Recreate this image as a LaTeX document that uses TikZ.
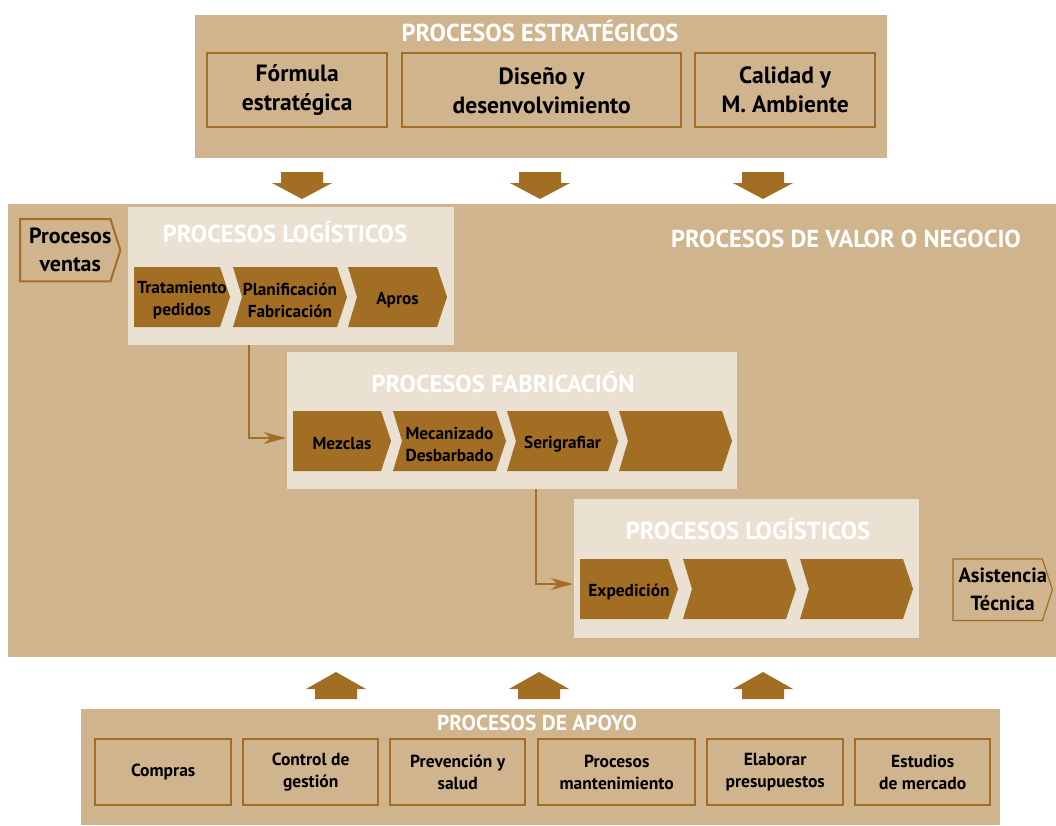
\documentclass[tikz,border=0pt]{standalone}
\usepackage{fontspec}
\setmainfont{PT Sans}
\usetikzlibrary{arrows.meta}
\definecolor{tan}{RGB}{208,180,142}
\definecolor{paper}{RGB}{235,225,210}
\definecolor{brn}{RGB}{161,110,35}

% filled process chevron: name, left x, tip x, top y, notch depth, label
\newcommand{\chev}[6]{%
  \fill[brn] (#2,#4) -- (#3-10,#4) -- (#3,#4+30) -- (#3-10,#4+60) -- (#2,#4+60) -- (#2+#5,#4+30) -- cycle;
  \node[chevtext, minimum width={(#3-#2)*1pt}] (#1) at ({(#2+#3)/2},#4+33) {#6};
}
% block arrow pointing down / up, centred at x
\newcommand{\blockdown}[1]{%
  \fill[brn] (#1-21,172) -- (#1+21,172) -- (#1+21,183) -- (#1+30,183) -- (#1,199) -- (#1-30,183) -- (#1-21,183) -- cycle;
}
\newcommand{\blockup}[1]{%
  \fill[brn] (#1-21,699) -- (#1+21,699) -- (#1+21,689) -- (#1+30,689) -- (#1,672) -- (#1-30,689) -- (#1-21,689) -- cycle;
}

\begin{document}
\begin{tikzpicture}[x=1pt,y=-1pt,
  panel/.style={fill=tan, inner sep=0, anchor=north west},
  subpanel/.style={fill=paper, inner sep=0, anchor=north west},
  ptitle/.style={text=white, inner sep=0, font=\bfseries\fontsize{24.5}{28}\selectfont},
  stratbox/.style={draw=brn, line width=2.4pt, fill=tan, inner sep=0, anchor=north west,
    align=center, font=\bfseries\fontsize{23.5}{29}\selectfont},
  supbox/.style={draw=brn, line width=2.4pt, fill=tan, inner sep=0, anchor=north west,
    minimum height=66pt, align=center, font=\bfseries\fontsize{17.5}{22}\selectfont},
  chevtext/.style={inner sep=0, minimum height=54pt, align=center,
    font=\bfseries\fontsize{17.3}{22}\selectfont},
  sidetext/.style={inner sep=0, anchor=north west, align=center,
    font=\bfseries\fontsize{22}{28}\selectfont},
  conn/.style={draw=brn, line width=2pt, -{Stealth[length=22pt,width=12pt,inset=7pt]}}
]
\useasboundingbox (0,0) rectangle (1056,825);
\fill[white] (0,0) rectangle (1056,825);

% ---------- strategic processes ----------
\node[panel, minimum width=692pt, minimum height=143pt] (strat) at (195,15) {};
\node[ptitle] (strattitle) at (540,31) {PROCESOS ESTRATÉGICOS};
\node[stratbox, minimum width=180pt, minimum height=74pt] (formula) at (206,52) {Fórmula\\estratégica};
\node[stratbox, minimum width=279pt, minimum height=74pt] (diseno) at (401,52) {Diseño y\\desenvolvimiento};
\node[stratbox, minimum width=180pt, minimum height=74pt] (calidad) at (694,52) {Calidad y\\M. Ambiente};

\blockdown{302}
\blockdown{540}
\blockdown{763}

% ---------- value / business processes ----------
\node[panel, minimum width=1048pt, minimum height=453pt] (valor) at (8,204) {};
\node[ptitle] (valortitle) at (846,239) {PROCESOS DE VALOR O NEGOCIO};

\node[sidetext, minimum width=100pt, minimum height=62pt] (ventas) at (20,219) {Procesos\\ventas};
\draw[brn, line width=2pt] (ventas.north west) -- ([xshift=-10pt]ventas.north east) -- (ventas.east)
  -- ([xshift=-10pt]ventas.south east) -- (ventas.south west) -- cycle;

\node[sidetext, font=\bfseries\fontsize{20.5}{28}\selectfont, minimum width=99pt, minimum height=61pt] (asist) at (953,559) {Asistencia\\Técnica};
\draw[brn, line width=1.2pt] (asist.north west) -- ([xshift=-10pt]asist.north east) -- (asist.east)
  -- ([xshift=-10pt]asist.south east) -- (asist.south west) -- cycle;

% logistics (inbound)
\node[subpanel, minimum width=326pt, minimum height=138pt] (log1) at (128,207) {};
\node[ptitle] (log1title) at (285,232) {PROCESOS LOGÍSTICOS};
\chev{tratamiento}{134}{230}{267}{0}{Tratamiento\\pedidos}
\chev{planif}{233}{347}{267}{9}{Planificación\\Fabricación}
\chev{apros}{348}{447}{267}{9}{Apros}

% manufacturing
\node[subpanel, minimum width=450pt, minimum height=137pt] (fab) at (287,352) {};
\node[ptitle] (fabtitle) at (503,382) {PROCESOS FABRICACIÓN};
\chev{mezclas}{293}{391}{411}{0}{Mezclas}
\chev{mecanizado}{393}{506}{411}{9}{Mecanizado\\Desbarbado}
\chev{serigrafiar}{507}{618}{411}{9}{Serigrafiar}
\chev{fabfour}{619}{732}{411}{9}{}

% logistics (outbound)
\node[subpanel, minimum width=345pt, minimum height=139pt] (log2) at (574,499) {};
\node[ptitle] (log2title) at (748,529) {PROCESOS LOGÍSTICOS};
\chev{expedicion}{580}{678}{559}{0}{Expedición}
\chev{logtwo}{683}{796}{559}{9}{}
\chev{logthree}{800}{913}{559}{9}{}

% flow between the stages
\draw[conn] ([xshift=121pt]log1.south west) |- ([xshift=-7pt,yshift=6pt]mezclas.west);
\draw[conn] ([xshift=249pt]fab.south west) |- ([xshift=-7pt,yshift=8pt]expedicion.west);

% ---------- support processes ----------
\blockup{336}
\blockup{539}
\blockup{763}

\node[panel, minimum width=919pt, minimum height=116pt] (apoyo) at (81,709) {};
\node[ptitle, font=\bfseries\fontsize{21.5}{24}\selectfont] (apoyotitle) at (537,723) {PROCESOS DE APOYO};
\node[supbox, minimum width=136pt] (compras) at (94,738) {Compras};
\node[supbox, minimum width=135pt] (control) at (242,738) {Control de\\gestión};
\node[supbox, minimum width=135pt] (prevencion) at (389,738) {Prevención y\\salud};
\node[supbox, minimum width=157pt] (mantenimiento) at (537,738) {Procesos\\mantenimiento};
\node[supbox, minimum width=136pt] (presupuestos) at (706,738) {Elaborar\\presupuestos};
\node[supbox, minimum width=135pt] (mercado) at (854,738) {Estudios\\de mercado};
\end{tikzpicture}
\end{document}
